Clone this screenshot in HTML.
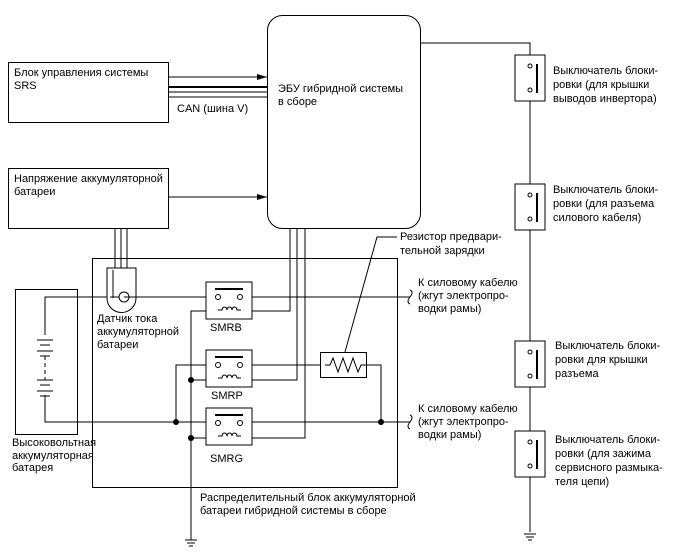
<!DOCTYPE html>
<html><head><meta charset="utf-8"><style>
html,body{margin:0;padding:0;background:#fff}
svg{display:block}
text{font-family:"Liberation Sans",Arial,sans-serif;font-size:11px;fill:#000}
</style></head><body>
<svg width="688" height="560" viewBox="0 0 688 560" xmlns="http://www.w3.org/2000/svg">
<defs><marker id="ar" markerWidth="10" markerHeight="8" refX="10" refY="4" orient="auto" markerUnits="userSpaceOnUse"><path d="M0,1 L10,4 L0,7 Z" fill="#000"/></marker>
<g id="sw"><rect x="-15" y="0" width="30" height="46" fill="#fff" stroke="#000"/><circle cx="0" cy="11" r="2" fill="#fff" stroke="#000"/><circle cx="0" cy="35" r="2" fill="#fff" stroke="#000"/><line x1="7" y1="9" x2="7" y2="38" stroke="#000" stroke-width="2"/></g>
<g id="gnd" stroke="#000"><line x1="-6" y1="0" x2="6" y2="0"/><line x1="-4" y1="3" x2="4" y2="3"/><line x1="-2" y1="6" x2="2" y2="6"/></g>
<g id="relay"><rect x="0" y="0" width="46" height="37" fill="#fff" stroke="#000"/><line x1="9" y1="7" x2="37" y2="7" stroke="#000" stroke-width="2"/><circle cx="12" cy="15" r="2.5" fill="#fff" stroke="#000"/><circle cx="34" cy="15" r="2.5" fill="#fff" stroke="#000"/><path d="M12,28 h4 a2.5,3 0 0 1 5,0 a2.5,3 0 0 1 5,0 a2.5,3 0 0 1 5,0 h4" fill="none" stroke="#000"/></g>
</defs>
<g fill="none" stroke="#000" stroke-width="1">
<rect x="267.5" y="15.5" width="153" height="213" rx="15"/>
<rect x="8.5" y="62.5" width="160" height="60"/>
<rect x="8.5" y="168.5" width="160" height="60"/>
<line x1="168" y1="77" x2="267" y2="77" marker-end="url(#ar)"/>
<line x1="168" y1="87" x2="267" y2="87" stroke-width="2"/>
<line x1="168" y1="92" x2="267" y2="92"/>
<line x1="168" y1="97" x2="267" y2="97"/>
<line x1="168" y1="197" x2="267" y2="197" marker-end="url(#ar)"/>
<polyline points="420,43 530,43 530,532"/>
<rect x="92.5" y="258.5" width="305" height="229"/>
<rect x="15.5" y="289.5" width="62" height="145"/>
<line x1="115" y1="228" x2="115" y2="270"/><line x1="121" y1="228" x2="121" y2="270"/><line x1="127" y1="228" x2="127" y2="270"/>
<polyline points="290,228 290,311 240,311"/>
<polyline points="297,228 297,380 240,380"/>
<polyline points="305,228 305,438 240,438"/>
<polyline points="45,335 45,297 410,297"/>
<polyline points="45,395 45,422 410,422"/>
<polyline points="191,540 191,311 206,311"/>
<line x1="191" y1="380" x2="206" y2="380"/><line x1="191" y1="438" x2="206" y2="438"/>
<polyline points="176,422 176,365 320,365"/>
<polyline points="366,365 381,365 381,422"/>
<polyline points="345,352 377,237 397,237"/>
<path d="M410,290 q4,2 0,7 q-4,5 0,7"/>
<path d="M410,415 q4,2 0,7 q-4,5 0,7"/>
<line x1="37" y1="340" x2="53" y2="340"/><line x1="40" y1="345" x2="50" y2="345"/><line x1="37" y1="351" x2="53" y2="351"/><line x1="40" y1="356" x2="50" y2="356"/>
<line x1="45" y1="356" x2="45" y2="380" stroke-dasharray="4,3"/>
<line x1="37" y1="380" x2="53" y2="380"/><line x1="40" y1="385" x2="50" y2="385"/><line x1="37" y1="391" x2="53" y2="391"/><line x1="40" y1="396" x2="50" y2="396"/>
</g>
<path d="M107,268 h29 v30 a14,14 0 0 1 -29,0 Z" fill="#fff" stroke="#000"/>
<path d="M113,270 v28" stroke="#000" fill="none"/>
<line x1="110" y1="297" x2="191" y2="297" stroke="#000"/>
<circle cx="124" cy="297" r="5" fill="#fff" stroke="#000"/>
<line x1="124" y1="297" x2="136" y2="297" stroke="#000"/>
<use href="#relay" x="206" y="282"/>
<use href="#relay" x="206" y="350"/>
<use href="#relay" x="206" y="408"/>
<rect x="320.5" y="352.5" width="46" height="25" fill="#fff" stroke="#000"/>
<polyline points="325,365 330,365 333,358 338,372 343,358 348,372 353,358 358,372 361,365 366,365" fill="none" stroke="#000"/>
<g fill="#000"><circle cx="191" cy="380" r="3"/><circle cx="191" cy="438" r="3"/><circle cx="176" cy="422" r="3"/><circle cx="381" cy="422" r="3"/></g>
<use href="#gnd" x="191" y="540"/>
<use href="#gnd" x="530" y="534"/>
<use href="#sw" x="530" y="55"/>
<use href="#sw" x="530" y="184"/>
<use href="#sw" x="530" y="341"/>
<use href="#sw" x="530" y="431"/>
<text x="14" y="76">Блок управления системы</text><text x="14" y="89">SRS</text>
<text x="14" y="182">Напряжение аккумуляторной</text><text x="14" y="195">батареи</text>
<text x="177" y="112">CAN (шина V)</text>
<text x="278" y="92">ЭБУ гибридной системы</text><text x="278" y="105">в сборе</text>
<text x="553" y="74">Выключатель блоки-</text><text x="553" y="88">ровки (для крышки</text><text x="553" y="102">выводов инвертора)</text>
<text x="553" y="193">Выключатель блоки-</text><text x="553" y="207">ровки (для разъема</text><text x="553" y="221">силового кабеля)</text>
<text x="555" y="349">Выключатель блоки-</text><text x="555" y="363">ровки для крышки</text><text x="555" y="377">разъема</text>
<text x="555" y="443">Выключатель блоки-</text><text x="555" y="457">ровки (для зажима</text><text x="555" y="471">сервисного размыка-</text><text x="555" y="485">теля цепи)</text>
<text x="400" y="240">Резистор предвари-</text><text x="400" y="254">тельной зарядки</text>
<text x="418" y="286">К силовому кабелю</text><text x="418" y="299">(жгут электропро-</text><text x="418" y="312">водки рамы)</text>
<text x="418" y="412">К силовому кабелю</text><text x="418" y="425">(жгут электропро-</text><text x="418" y="438">водки рамы)</text>
<text x="97" y="322">Датчик тока</text><text x="97" y="335">аккумуляторной</text><text x="97" y="348">батареи</text>
<text x="210" y="331">SMRB</text><text x="211" y="399">SMRP</text><text x="210" y="462">SMRG</text>
<text x="12" y="446">Высоковольтная</text><text x="12" y="459">аккумуляторная</text><text x="12" y="471">батарея</text>
<text x="200" y="501">Распределительный блок аккумуляторной</text><text x="200" y="514">батареи гибридной системы в сборе</text>
</svg>
</body></html>
